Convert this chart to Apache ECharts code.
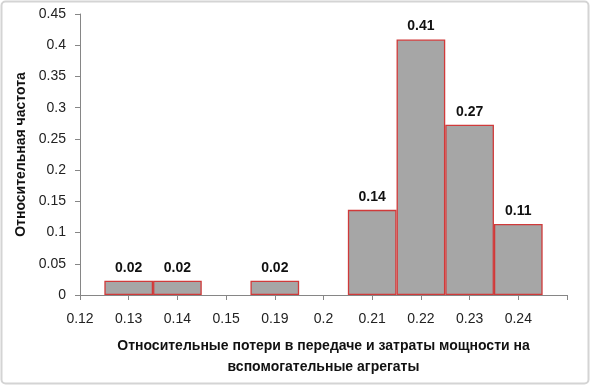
<!DOCTYPE html>
<html><head><meta charset="utf-8">
<script src="https://cdn.jsdelivr.net/npm/echarts@6/dist/echarts.min.js"></script>
<style>html,body{margin:0;padding:0;background:#fff}#c{width:591px;height:386px}</style>
</head><body><div id="c"></div>
<script>
var categories = ['0.12','0.13','0.14','0.15','0.19','0.2','0.21','0.22','0.23','0.24',''];
var frequencies = [null, 1/44, 1/44, null, 1/44, null, 6/44, 18/44, 12/44, 5/44, null];
var yTicks = {min: 0, max: 0.45, interval: 0.05};
var yTitle = 'Относительная частота';
var xTitle = 'Относительные потери в передаче и затраты мощности на\nвспомогательные агрегаты';

var font = 'Liberation Sans';
var chart = echarts.init(document.getElementById('c'), null, {renderer: 'canvas'});
chart.setOption({
  animation: false,
  textStyle: {fontFamily: font},
  grid: {left: 80, right: 24, top: 14, bottom: 91, containLabel: false},
  graphic: [{type: 'rect', shape: {x: 1.5, y: 1.5, width: 587, height: 382, r: 4}, style: {fill: 'none', stroke: '#d4d4d4', lineWidth: 2}, silent: true}],
  xAxis: {
    type: 'category', data: categories, boundaryGap: false,
    axisLine: {lineStyle: {color: '#868686', width: 1}},
    axisTick: {show: true, length: 5, lineStyle: {color: '#868686'}},
    axisLabel: {color: '#222', fontSize: 14, margin: 17, fontFamily: font},
    splitLine: {show: false},
    name: xTitle, nameLocation: 'middle', nameGap: 41,
    nameTextStyle: {fontWeight: 'bold', fontSize: 14, color: '#111', lineHeight: 21, fontFamily: font}
  },
  yAxis: {
    type: 'value', min: yTicks.min, max: yTicks.max, interval: yTicks.interval,
    axisLine: {show: true, lineStyle: {color: '#868686'}},
    axisTick: {show: true, inside: false, length: 5, lineStyle: {color: '#868686'}},
    axisLabel: {color: '#222', fontSize: 14, margin: 14, fontFamily: font},
    splitLine: {show: false},
    name: yTitle, nameLocation: 'middle', nameGap: 52, nameRotate: 90,
    nameTextStyle: {fontWeight: 'bold', fontSize: 14, color: '#111', fontFamily: font}
  },
  series: [{
    type: 'bar', data: frequencies, barWidth: '100%', barGap: '0%',
    itemStyle: {color: '#a6a6a6', borderColor: '#d03a3a', borderWidth: 1.3},
    label: {show: true, position: 'top', distance: 6, fontWeight: 'bold', fontSize: 14, color: '#111',
      fontFamily: font,
      formatter: function(p){ return p.value == null ? '' : p.value.toFixed(2); }}
  }]
});
</script></body></html>
